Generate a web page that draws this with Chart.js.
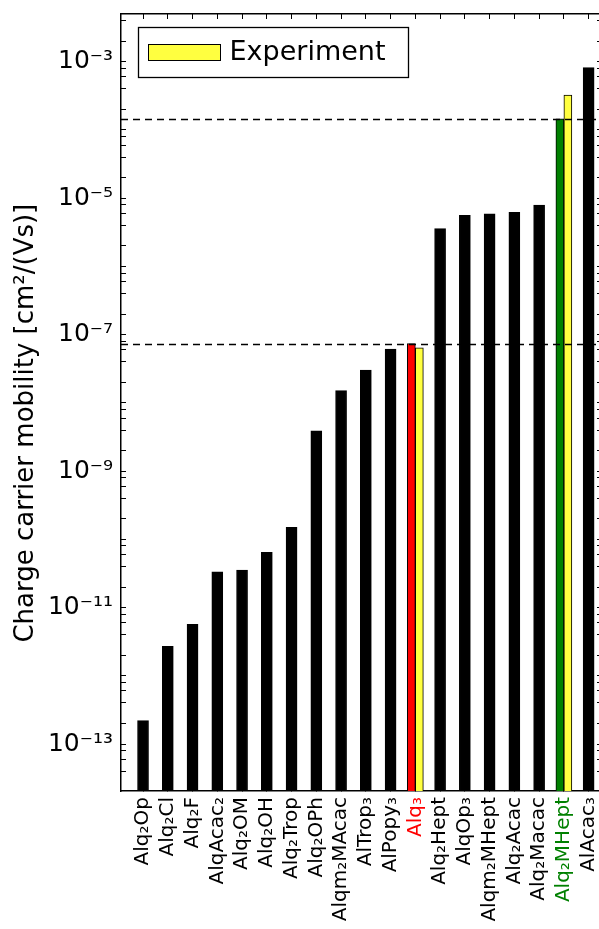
<!DOCTYPE html>
<html>
<head>
<meta charset="utf-8">
<script src="https://cdn.jsdelivr.net/npm/chart.js@4"></script>
<style>
  html, body { margin: 0; padding: 0; background: #fff; overflow: hidden; }
  #wrap { width: 612px; height: 929px; }
</style>
</head>
<body>
<div id="wrap"><canvas id="mobilityChart"></canvas></div>
<script>
// compounds on the x axis
const categories = ['Alq₂Op', 'Alq₂Cl', 'Alq₂F', 'AlqAcac₂', 'Alq₂OM', 'Alq₂OH', 'Alq₂Trop', 'Alq₂OPh',
  'Alqm₂MAcac', 'AlTrop₃', 'AlPopy₃', 'Alq₃', 'Alq₂Hept', 'AlqOp₃', 'Alqm₂MHept', 'Alq₂Acac',
  'Alq₂Macac', 'Alq₂MHept', 'AlAcac₃'];
// computed mobility (black bars)
const theory = [2.2e-13, 2.7e-12, 5.7e-12, 3.35e-11, 3.55e-11, 6.45e-11, 1.5e-10, 3.9e-9,
  1.51e-8, 3.03e-8, 6.15e-8, null, 3.57e-6, 5.6e-6, 5.9e-6, 6.2e-6, 7.9e-6, null, 8.2e-4];
// highlighted computed values (Alq3 red, Alq2MHept green)
const highlight = [null, null, null, null, null, null, null, null, null, null, null, 7.4e-8,
  null, null, null, null, null, 1.45e-4, null];
const highlightColors = ['#ff0000', '#008000'];
// measured values
const experiment = [null, null, null, null, null, null, null, null, null, null, null, 6.4e-8,
  null, null, null, null, null, 3.25e-4, null];
// label colours
const labelColors = ['#000', '#000', '#000', '#000', '#000', '#000', '#000', '#000', '#000', '#000',
  '#000', '#ff0000', '#000', '#000', '#000', '#000', '#000', '#008000', '#000'];
// dashed reference levels
const refLines = [1.45e-4, 7.4e-8];
// y axis
const yMin = 2.05e-14, yMax = 5.0e-3;
const decades = [-14, -13, -12, -11, -10, -9, -8, -7, -6, -5, -4, -3];
const minorSubs = [2, 4, 6, 8];
const labelExps = [-13, -11, -9, -7, -5, -3];
const yTickLabels = ['10⁻¹³', '10⁻¹¹', '10⁻⁹', '10⁻⁷', '10⁻⁵', '10⁻³'];

const FONT = "'DejaVu Sans', sans-serif";

function logTicks() {
  let t = [];
  decades.forEach(e => {
    t.push({ value: Math.pow(10, e), major: true });
    minorSubs.forEach(s => t.push({ value: s * Math.pow(10, e), major: false }));
  });
  return t.filter(k => k.value >= yMin && k.value <= yMax);
}
function catTicks() {
  return categories.map((c, i) => ({ value: i }));
}
function toPoints(arr) {
  return arr.map((v, i) => ({ x: i, y: v }));
}
// no extra label padding, keep the plot box fixed
function noPad(s) {
  s.paddingLeft = 0; s.paddingRight = 0; s.paddingTop = 0; s.paddingBottom = 0;
}

// dashed horizontal lines + legend box
const extras = {
  id: 'extras',
  afterDatasetsDraw(chart) {
    const ctx = chart.ctx, area = chart.chartArea, y = chart.scales.y;
    ctx.save();
    ctx.strokeStyle = '#000';
    ctx.lineWidth = 1.3;
    ctx.setLineDash([7, 5]);
    refLines.forEach(v => {
      const py = Math.round(y.getPixelForValue(v)) + 0.5;
      ctx.beginPath();
      ctx.moveTo(area.left, py);
      ctx.lineTo(area.right, py);
      ctx.stroke();
    });
    ctx.restore();
  },
  afterDraw(chart) {
    const ctx = chart.ctx, area = chart.chartArea;
    const bx = area.left + 17.5, by = area.top + 13.5;
    ctx.save();
    ctx.fillStyle = '#fff';
    ctx.strokeStyle = '#000';
    ctx.lineWidth = 1.3;
    ctx.fillRect(bx, by, 270, 50);
    ctx.strokeRect(bx, by, 270, 50);
    ctx.fillStyle = '#ffff40';
    ctx.fillRect(bx + 10, by + 17, 72, 16);
    ctx.lineWidth = 1;
    ctx.strokeRect(bx + 10, by + 17, 72, 16);
    ctx.fillStyle = '#000';
    ctx.font = '27px ' + FONT;
    ctx.textBaseline = 'middle';
    ctx.fillText('Experiment', bx + 91, by + 25);
    ctx.restore();
  }
};

const ctx = document.getElementById('mobilityChart').getContext('2d');
const mobilityChart = new Chart(ctx, {
  type: 'bar',
  data: {
    datasets: [
      {
        label: 'Theory',
        data: toPoints(theory),
        backgroundColor: '#000',
        borderColor: '#000',
        borderWidth: 1,
        barThickness: 11
      },
      {
        label: 'Highlight',
        data: toPoints(highlight),
        backgroundColor: highlight.map((v, i) => i === 11 ? highlightColors[0] : highlightColors[1]),
        borderColor: '#000',
        borderWidth: 1,
        barThickness: 8
      },
      {
        label: 'Experiment',
        data: toPoints(experiment),
        backgroundColor: '#ffff40',
        borderColor: '#000',
        borderWidth: 1,
        barThickness: 8
      }
    ]
  },
  plugins: [extras],
  options: {
    responsive: true,
    maintainAspectRatio: false,
    animation: false,
    skipNull: true,
    layout: { padding: 0 },
    plugins: {
      legend: { display: false },
      tooltip: { enabled: false }
    },
    scales: {
      x: {
        type: 'linear',
        position: 'bottom',
        offset: false,
        min: -0.89,
        max: 18.54,
        afterBuildTicks: s => { s.ticks = catTicks(); },
        afterFit: s => { s.height = 138; noPad(s); },
        border: { color: '#000', width: 1.5 },
        grid: { offset: false, drawOnChartArea: false, tickLength: -5, color: '#000', tickWidth: 1 },
        ticks: {
          autoSkip: false,
          maxRotation: 90,
          minRotation: 90,
          padding: 11,
          font: { family: FONT, size: 20 },
          color: c => labelColors[c.index] || '#000',
          callback: (v, i) => categories[i]
        }
      },
      xTop: {
        type: 'linear',
        position: 'top',
        offset: false,
        min: -0.89,
        max: 18.54,
        afterBuildTicks: s => { s.ticks = catTicks(); },
        afterFit: s => { s.height = 14; noPad(s); },
        border: { color: '#000', width: 1.5 },
        grid: { offset: false, drawOnChartArea: false, tickLength: -5, color: '#000', tickWidth: 1 },
        ticks: { display: false }
      },
      y: {
        type: 'logarithmic',
        position: 'left',
        min: yMin,
        max: yMax,
        afterBuildTicks: s => { s.ticks = logTicks(); },
        afterFit: s => { s.width = 121; noPad(s); },
        border: { color: '#000', width: 1.5 },
        grid: { drawOnChartArea: false, tickLength: -5, color: '#000', tickWidth: 1 },
        title: {
          display: true,
          // trailing spaces push the centred title a little lower, as in the original
          text: 'Charge carrier mobility [cm²/(Vs)]     ',
          color: '#000',
          font: { family: FONT, size: 26, weight: 'normal' },
          padding: { top: 11, bottom: 0 }
        },
        ticks: {
          autoSkip: false,
          padding: 13,
          color: '#000',
          font: { family: FONT, size: 25 },
          callback: v => {
            const e = Math.round(Math.log10(v));
            if (Math.abs(v / Math.pow(10, e) - 1) > 1e-6) return '';
            const k = labelExps.indexOf(e);
            return k >= 0 ? yTickLabels[k] : '';
          }
        }
      },
      yRight: {
        type: 'logarithmic',
        position: 'right',
        min: yMin,
        max: yMax,
        afterBuildTicks: s => { s.ticks = logTicks(); },
        afterFit: s => { s.width = 10; noPad(s); },
        border: { color: '#000', width: 1.5 },
        grid: { drawOnChartArea: false, tickLength: -5, color: '#000', tickWidth: 1 },
        ticks: { display: false }
      }
    }
  }
});
</script>
</body>
</html>
